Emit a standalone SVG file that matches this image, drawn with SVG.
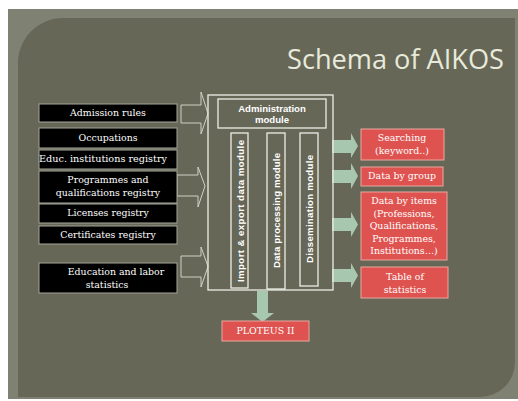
<svg xmlns="http://www.w3.org/2000/svg" width="518" height="401" viewBox="0 0 518 401">
<style>
.src rect{fill:#000;stroke:#a4a69a;stroke-width:1}
.src text,.out text{font-family:"DejaVu Serif",serif;font-size:9.4px;fill:#fff;text-anchor:middle}
.out rect{fill:#de534f;stroke:#eaa8a2;stroke-width:1}
.mod rect{fill:none;stroke:#eeeee6;stroke-width:1.3}
.mod text{font-family:"Liberation Sans",Arial,sans-serif;font-weight:bold;font-size:9.6px;fill:#fff;text-anchor:middle}
.hol{fill:none;stroke:#cfd1c4;stroke-width:1}
.grn{fill:#a7c7af}
</style>
<rect x="0" y="0" width="518" height="401" fill="#ffffff"/>
<rect x="8" y="9" width="510" height="390" fill="#7f8172"/>
<path d="M18,63 A45,45 0 0 1 63,18 H515 V362 A35,35 0 0 1 480,397 H18 Z" fill="#666757"/>
<text x="504" y="69" text-anchor="end" font-family="'Open Sans','Noto Sans',sans-serif" font-size="27" fill="#e8eadb" textLength="217" lengthAdjust="spacingAndGlyphs">Schema of AIKOS</text>

<g id="connectors">
<polygon class="hol" points="181,105 201,105 201,92 208,113.5 201,134 201,123 181,123"/>
<polygon class="hol" points="177,175 198,175 198,167 205,186 198,207 198,196 177,196"/>
<polygon class="hol" points="181,256 201,256 201,247 208,266.5 201,287 201,277 181,277"/>
<polygon class="grn" points="332,140 351,140 351,133 358,146 351,158 351,153 332,153"/>
<polygon class="grn" points="332,170 351,170 351,163 358,176 351,189 351,183 332,183"/>
<polygon class="grn" points="332,218 351,218 351,212 358,224.5 351,237 351,231 332,231"/>
<polygon class="grn" points="332,269 351,269 351,263 358,275.5 351,288 351,282 332,282"/>
<polygon class="grn" points="257,291 268,291 268,313 274,313 262.5,322 251,313 257,313"/>
</g>

<g id="n-admission" class="src"><rect x="39" y="104" width="138" height="18"/><text x="108" y="116">Admission rules</text></g>
<g id="n-occupations" class="src"><rect x="39" y="128" width="138" height="20"/><text x="108" y="141">Occupations</text></g>
<g id="n-educ" class="src"><rect x="39" y="150" width="138" height="19"/><text x="103" y="162" textLength="128" lengthAdjust="spacingAndGlyphs">Educ. institutions registry</text></g>
<g id="n-programmes" class="src"><rect x="39" y="171" width="138" height="32"/><text x="108" y="183">Programmes and</text><text x="108" y="196">qualifications registry</text></g>
<g id="n-licenses" class="src"><rect x="39" y="204" width="138" height="19"/><text x="108" y="216">Licenses registry</text></g>
<g id="n-certificates" class="src"><rect x="39" y="226" width="138" height="18"/><text x="108" y="238">Certificates registry</text></g>
<g id="n-statistics" class="src"><rect x="39" y="263" width="138" height="30"/><text x="116" y="275">Education and labor</text><text x="107" y="288">statistics</text></g>

<g id="n-main" class="mod">
<rect x="208" y="95" width="125" height="195" stroke="#ffffff" stroke-width="2"/>
</g>
<g id="n-admin" class="mod"><rect x="218" y="99" width="108" height="29"/><text x="272" y="112">Administration</text><text x="272" y="123">module</text></g>
<g id="n-import" class="mod"><rect x="231" y="133" width="17" height="155"/><text transform="translate(243.5,211) rotate(-90)" textLength="142" lengthAdjust="spacing">Import &amp; export data module</text></g>
<g id="n-processing" class="mod"><rect x="267" y="133" width="18" height="156"/><text transform="translate(279.5,210.5) rotate(-90)" textLength="115" lengthAdjust="spacing">Data processing module</text></g>
<g id="n-dissemination" class="mod"><rect x="300" y="133" width="18" height="153"/><text transform="translate(312.5,209) rotate(-90)" textLength="108" lengthAdjust="spacing">Dissemination module</text></g>

<g id="n-searching" class="out"><rect x="361" y="129" width="83" height="31"/><text x="402" y="141">Searching</text><text x="402" y="154">(keyword..)</text></g>
<g id="n-group" class="out"><rect x="361" y="167" width="82" height="19"/><text x="402" y="179">Data by group</text></g>
<g id="n-items" class="out"><rect x="361" y="192" width="86" height="68"/><text x="404" y="204">Data by items</text><text x="404" y="216.5">(Professions,</text><text x="404" y="229">Qualifications,</text><text x="404" y="241.5">Programmes,</text><text x="404" y="254">Institutions…)</text></g>
<g id="n-table" class="out"><rect x="361" y="267" width="87" height="31"/><text x="405" y="280">Table of</text><text x="405" y="293">statistics</text></g>
<g id="n-ploteus" class="out"><rect x="222" y="321" width="87" height="20"/><text x="265.5" y="334">PLOTEUS II</text></g>
</svg>
